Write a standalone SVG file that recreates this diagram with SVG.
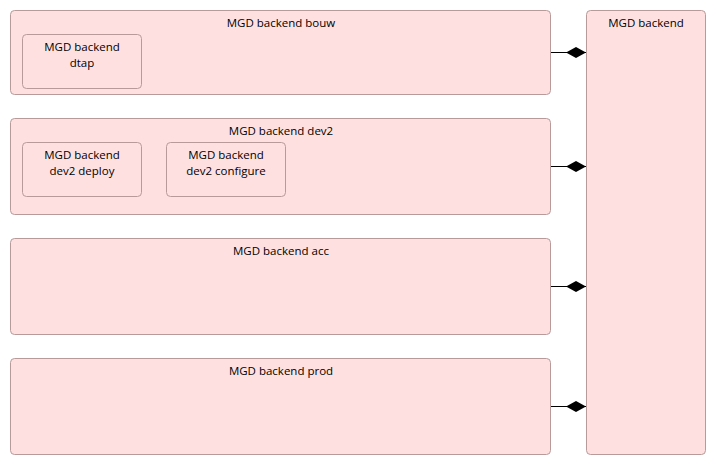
<svg xmlns="http://www.w3.org/2000/svg" width="716" height="465" viewBox="0 0 716 465">
<style>
.b{fill:#ffe0e0;stroke:#b89a9a;stroke-width:1}
.t{font-family:"Open Sans","Noto Sans","Liberation Sans",sans-serif;font-size:11.5px;fill:#000;text-anchor:middle}
.c{stroke:#000;stroke-width:1;fill:none}
</style>
<defs>
<marker id="dia" markerWidth="20" markerHeight="12" refX="20" refY="6" orient="auto" markerUnits="userSpaceOnUse">
<path d="M0,6 L10,0.5 L20,6 L10,11.5 Z" fill="#000"/>
</marker>
</defs>
<rect width="716" height="465" fill="#fff"/>
<g id="bouw">
<rect class="b" x="10.5" y="10.5" width="540" height="84" rx="4"/>
<text class="t" x="281" y="27">MGD backend bouw</text>
</g>
<g id="dtap">
<rect class="b" x="22.5" y="34.5" width="119" height="54" rx="4"/>
<text class="t" x="82" y="51">MGD backend</text>
<text class="t" x="82" y="67">dtap</text>
</g>
<g id="dev2">
<rect class="b" x="10.5" y="118.5" width="540" height="96" rx="4"/>
<text class="t" x="281" y="135">MGD backend dev2</text>
</g>
<g id="dev2deploy">
<rect class="b" x="22.5" y="142.5" width="119" height="54" rx="4"/>
<text class="t" x="82" y="159">MGD backend</text>
<text class="t" x="82" y="175">dev2 deploy</text>
</g>
<g id="dev2configure">
<rect class="b" x="166.5" y="142.5" width="119" height="54" rx="4"/>
<text class="t" x="226" y="159">MGD backend</text>
<text class="t" x="226" y="175">dev2 configure</text>
</g>
<g id="acc">
<rect class="b" x="10.5" y="238.5" width="540" height="96" rx="4"/>
<text class="t" x="281" y="255">MGD backend acc</text>
</g>
<g id="prod">
<rect class="b" x="10.5" y="358.5" width="540" height="96" rx="4"/>
<text class="t" x="281" y="375">MGD backend prod</text>
</g>
<g id="backend">
<rect class="b" x="586.5" y="10.5" width="119" height="444" rx="4"/>
<text class="t" x="646" y="27">MGD backend</text>
</g>
<g id="connectors">
<path class="c" d="M551,52.5 H586" marker-end="url(#dia)"/>
<path class="c" d="M551,166.5 H586" marker-end="url(#dia)"/>
<path class="c" d="M551,286.5 H586" marker-end="url(#dia)"/>
<path class="c" d="M551,406.5 H586" marker-end="url(#dia)"/>
</g>
</svg>
